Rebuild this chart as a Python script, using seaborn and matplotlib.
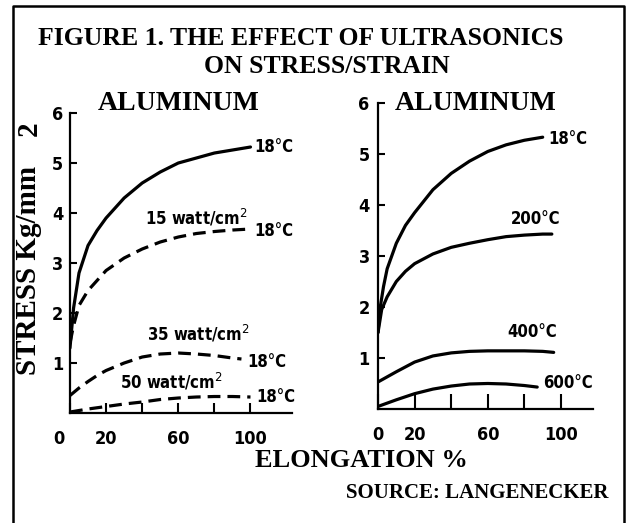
import numpy as np
import matplotlib
matplotlib.use('Agg')
import matplotlib.pyplot as plt
import matplotlib.transforms as mtransforms
from matplotlib.lines import Line2D
import pandas as pd
import seaborn as sns

# left panel: aluminium at 18 C, with and without ultrasonics
left_x_plain = [0, 2, 5, 10, 15, 20, 30, 40, 50, 60, 70, 80, 90, 100]
left_y_plain = [1.3, 2.1, 2.8, 3.35, 3.65, 3.9, 4.3, 4.6, 4.82, 5.0, 5.1, 5.2, 5.26, 5.32]
left_x_15w = [0, 2, 5, 10, 15, 20, 30, 40, 50, 60, 70, 80, 90, 100]
left_y_15w = [1.4, 1.75, 2.15, 2.45, 2.65, 2.85, 3.1, 3.28, 3.42, 3.52, 3.59, 3.63, 3.66, 3.68]
left_x_35w = [0, 5, 10, 15, 20, 30, 40, 50, 60, 70, 80, 90, 95]
left_y_35w = [0.35, 0.5, 0.63, 0.75, 0.85, 1.0, 1.12, 1.18, 1.2, 1.18, 1.15, 1.1, 1.08]
left_x_50w = [0, 10, 20, 30, 40, 50, 60, 70, 80, 90, 100]
left_y_50w = [0.02, 0.08, 0.13, 0.18, 0.22, 0.27, 0.3, 0.32, 0.33, 0.33, 0.32]

# right panel: aluminium at different temperatures
right_x_18 = [0, 1, 3, 5, 10, 15, 20, 30, 40, 50, 60, 70, 80, 90]
right_y_18 = [1.5, 1.95, 2.4, 2.75, 3.25, 3.6, 3.85, 4.3, 4.62, 4.86, 5.05, 5.18, 5.27, 5.33]
right_x_200 = [0, 2, 5, 10, 15, 20, 30, 40, 50, 60, 70, 80, 90, 95]
right_y_200 = [1.5, 1.95, 2.2, 2.5, 2.7, 2.85, 3.04, 3.17, 3.25, 3.32, 3.38, 3.41, 3.43, 3.43]
right_x_400 = [0, 10, 20, 30, 40, 50, 60, 70, 80, 90, 96]
right_y_400 = [0.53, 0.73, 0.92, 1.04, 1.1, 1.13, 1.14, 1.14, 1.14, 1.13, 1.11]
right_x_600 = [0, 10, 20, 30, 40, 50, 60, 70, 80, 87]
right_y_600 = [0.05, 0.18, 0.3, 0.39, 0.45, 0.49, 0.5, 0.49, 0.46, 0.43]

y_ticks = [1, 2, 3, 4, 5, 6]
x_ticks = [0, 20, 40, 60, 80, 100]
x_tick_labels = ['0', '20', '', '60', '', '100']

sns.set_style('white')
for k in ['text.color', 'axes.labelcolor', 'xtick.color', 'ytick.color']:
    plt.rcParams[k] = 'black'

serif = 'Liberation Serif'
lab = dict(family='DejaVu Sans', weight='bold', stretch='condensed', size=12)

fig = plt.figure(figsize=(6.27, 5.23), dpi=100)
ax1 = fig.add_axes([0.1116, 0.2103, 0.3541, 0.5736])
ax2 = fig.add_axes([0.6029, 0.218, 0.3429, 0.585])


def style_axis(ax, xmax, ypad):
    """ticks inward, only left and bottom spines like the scanned plot"""
    ax.set_xlim(0, xmax)
    ax.set_ylim(0, 6)
    sns.despine(ax=ax)
    for s in ['left', 'bottom']:
        ax.spines[s].set_linewidth(1.6)
        ax.spines[s].set_color('black')
    ax.set_yticks(y_ticks)
    ax.set_yticklabels([str(t) for t in y_ticks], fontdict=dict(lab, size=13))
    ax.set_xticks(x_ticks)
    ax.set_xticklabels(x_tick_labels, fontdict=dict(lab, size=13))
    ax.tick_params(axis='y', direction='in', length=5, width=1.5, pad=ypad,
                   left=True)
    ax.tick_params(axis='x', direction='in', length=7, width=1.5, pad=12,
                   bottom=True)
    # the 0 label sits a bit left of the axis in the original
    off = mtransforms.ScaledTranslation(-0.11, 0, fig.dpi_scale_trans)
    lbl = ax.get_xticklabels()[0]
    lbl.set_transform(lbl.get_transform() + off)
    ax.set_xlabel('')
    ax.set_ylabel('')


def draw(ax, x, y, dashed=False):
    df = pd.DataFrame({'x': x, 'y': y})
    sns.lineplot(data=df, x='x', y='y', ax=ax, color='black', lw=2.3,
                 linestyle=(0, (4, 2.2)) if dashed else '-', sort=False)


draw(ax1, left_x_plain, left_y_plain)
draw(ax1, left_x_15w, left_y_15w, dashed=True)
draw(ax1, left_x_35w, left_y_35w, dashed=True)
draw(ax1, left_x_50w, left_y_50w, dashed=True)
style_axis(ax1, 123, 5)

draw(ax2, right_x_18, right_y_18)
draw(ax2, right_x_200, right_y_200)
draw(ax2, right_x_400, right_y_400)
draw(ax2, right_x_600, right_y_600)
style_axis(ax2, 117.5, 6)
ax2.tick_params(axis='x', length=11)

# curve labels
ax1.text(102, 5.32, '18°C', va='center', ha='left', **lab)
ax1.text(70, 3.9, '15 watt/cm$^2$', va='center', ha='center', **lab)
ax1.text(102, 3.64, '18°C', va='center', ha='left', **lab)
ax1.text(71, 1.58, '35 watt/cm$^2$', va='center', ha='center', **lab)
ax1.text(98, 1.02, '18°C', va='center', ha='left', **lab)
ax1.text(56, 0.62, '50 watt/cm$^2$', va='center', ha='center', **lab)
ax1.text(103, 0.32, '18°C', va='center', ha='left', **lab)

ax2.text(93, 5.3, '18°C', va='center', ha='left', **lab)
ax2.text(86, 3.72, '200°C', va='center', ha='center', **lab)
ax2.text(84, 1.5, '400°C', va='center', ha='center', **lab)
ax2.text(90, 0.51, '600°C', va='center', ha='left', **lab)

# panel names
fig.text(0.2855, 0.803, 'ALUMINUM', ha='center', va='center',
         family=serif, weight='bold', size=20)
fig.text(0.759, 0.803, 'ALUMINUM', ha='center', va='center',
         family=serif, weight='bold', size=20)

# titles and axis names
fig.text(0.48, 0.926, 'FIGURE 1. THE EFFECT OF ULTRASONICS', ha='center',
         va='center', family=serif, weight='bold', size=18.5)
fig.text(0.5215, 0.872, 'ON STRESS/STRAIN', ha='center', va='center',
         family=serif, weight='bold', size=18.5)
fig.text(0.046, 0.482, 'STRESS Kg/mm', rotation=90, ha='center',
         va='center', family=serif, weight='bold', size=21)
fig.text(0.046, 0.753, '2', rotation=90, ha='center',
         va='center', family=serif, weight='bold', size=21)
fig.text(0.576, 0.12, 'ELONGATION %', ha='center', va='center',
         family=serif, weight='bold', size=19)
fig.text(0.97, 0.0574, 'SOURCE: LANGENECKER', ha='right', va='center',
         family=serif, weight='bold', size=15)

# frame around the figure (no bottom edge in the scan)
fig.add_artist(Line2D([0.020, 0.020, 0.996, 0.996], [0.0, 0.989, 0.989, 0.0],
                      transform=fig.transFigure, color='black', lw=1.8))

plt.savefig('out.png', dpi=100)
